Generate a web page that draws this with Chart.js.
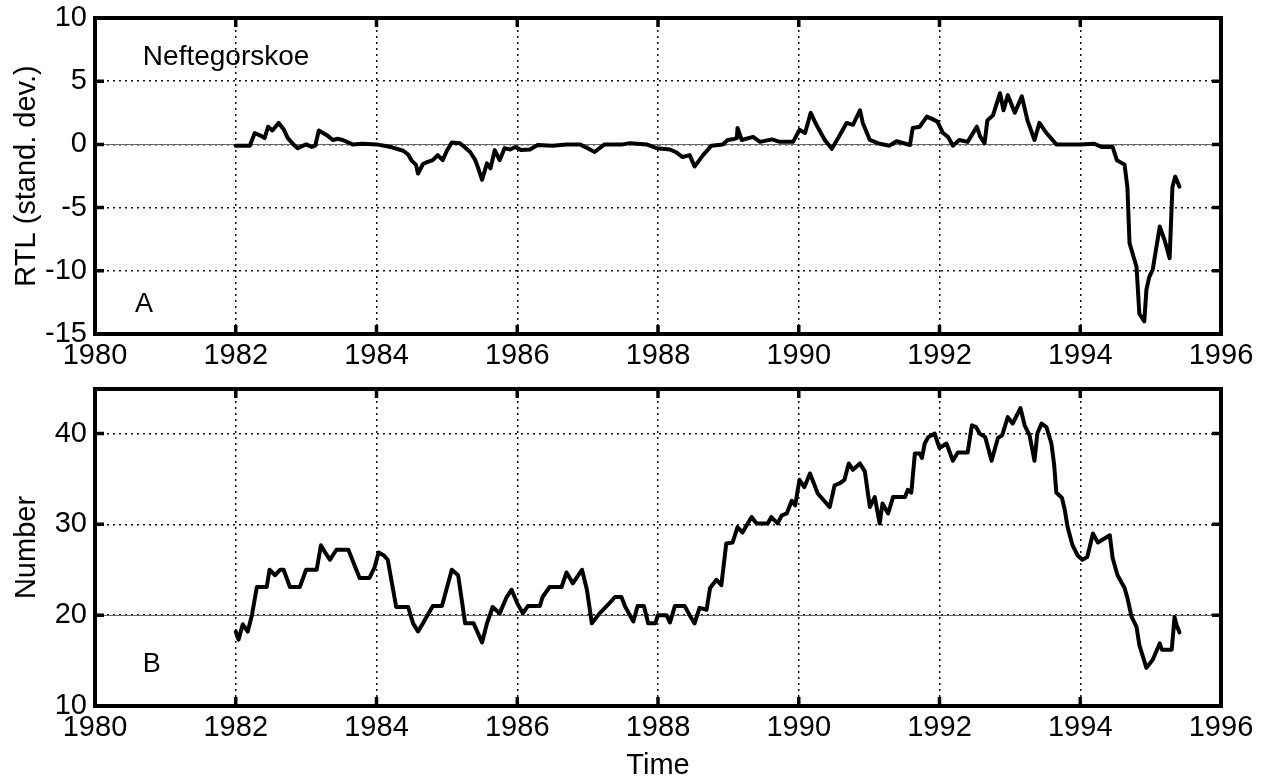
<!DOCTYPE html>
<html>
<head>
<meta charset="utf-8">
<script src="https://cdn.jsdelivr.net/npm/chart.js@4.4.1/dist/chart.umd.min.js"></script>
<style>
html,body{margin:0;padding:0;background:#fff;width:1264px;height:778px;overflow:hidden}
#c1{position:absolute;left:0;top:0}
#c2{position:absolute;left:0;top:372px}
</style>
</head>
<body>
<canvas id="c1" width="1264" height="372"></canvas>
<canvas id="c2" width="1264" height="406"></canvas>
<script>
// ---------- DATA ----------
const xTickYears = [1980, 1982, 1984, 1986, 1988, 1990, 1992, 1994, 1996];
const rtlTicks = [-15, -10, -5, 0, 5, 10];
const numberTicks = [10, 20, 30, 40];

const rtlYears = [
 1982.00,1982.10,1982.20,1982.27,1982.35,1982.41,1982.46,1982.52,1982.61,1982.68,
 1982.74,1982.82,1982.88,1983.00,1983.08,1983.13,1983.18,1983.29,1983.38,1983.45,
 1983.52,1983.66,1983.80,1984.00,1984.15,1984.23,1984.38,1984.45,1984.50,1984.56,
 1984.59,1984.66,1984.72,1984.80,1984.87,1984.94,1985.00,1985.07,1985.18,1985.25,
 1985.33,1985.40,1985.44,1985.50,1985.57,1985.62,1985.68,1985.75,1985.82,1985.90,
 1985.97,1986.06,1986.18,1986.29,1986.50,1986.70,1986.89,1987.00,1987.10,1987.24,
 1987.50,1987.60,1987.84,1987.98,1988.17,1988.25,1988.35,1988.45,1988.52,1988.58,
 1988.64,1988.76,1988.92,1988.99,1989.06,1989.12,1989.13,1989.19,1989.35,1989.45,
 1989.62,1989.73,1989.92,1990.01,1990.09,1990.17,1990.25,1990.37,1990.47,1990.56,
 1990.68,1990.77,1990.87,1990.91,1991.01,1991.15,1991.29,1991.39,1991.58,1991.62,
 1991.72,1991.82,1991.90,1991.97,1992.05,1992.12,1992.19,1992.28,1992.40,1992.53,
 1992.58,1992.64,1992.68,1992.76,1992.86,1992.91,1992.97,1993.07,1993.17,1993.25,
 1993.35,1993.42,1993.52,1993.66,1994.00,1994.20,1994.30,1994.46,1994.52,1994.63,
 1994.67,1994.70,1994.75,1994.80,1994.84,1994.91,1994.94,1994.98,1995.03,1995.13,
 1995.20,1995.27,1995.31,1995.35,1995.41
];
const rtlValues = [
 -0.1,-0.1,-0.1,0.9,0.7,0.5,1.4,1.1,1.7,1.2,
 0.5,0.0,-0.3,0.0,-0.2,-0.1,1.1,0.75,0.35,0.45,
 0.35,0.0,0.05,0.0,-0.15,-0.25,-0.5,-0.8,-1.3,-1.6,
 -2.3,-1.55,-1.4,-1.25,-0.85,-1.25,-0.5,0.15,0.1,-0.2,
 -0.6,-1.2,-1.8,-2.8,-1.5,-1.9,-0.45,-1.25,-0.3,-0.4,
 -0.2,-0.45,-0.4,-0.05,-0.1,0.0,0.0,-0.3,-0.6,0.0,
 0.0,0.1,0.0,-0.3,-0.4,-0.6,-1.0,-0.85,-1.75,-1.3,
 -0.85,-0.1,0.0,0.35,0.4,0.5,1.3,0.35,0.6,0.2,
 0.4,0.2,0.2,1.15,0.9,2.5,1.55,0.35,-0.35,0.5,
 1.7,1.55,2.7,1.7,0.35,0.05,-0.1,0.25,-0.05,1.3,
 1.4,2.2,2.0,1.8,0.9,0.6,-0.1,0.35,0.2,1.4,
 0.6,0.1,1.9,2.3,4.05,2.7,3.9,2.5,3.8,1.9,
 0.35,1.7,0.9,0.0,0.0,0.05,-0.2,-0.2,-1.25,-1.6,
 -3.4,-7.8,-8.75,-9.7,-13.4,-14.0,-11.5,-10.5,-9.9,-6.5,
 -7.6,-9.0,-3.35,-2.55,-3.35
];

const numYears = [
 1982.00,1982.04,1982.10,1982.17,1982.23,1982.30,1982.44,1982.48,1982.56,1982.63,
 1982.68,1982.77,1982.91,1983.00,1983.15,1983.21,1983.27,1983.34,1983.43,1983.60,
 1983.76,1983.90,1983.97,1984.03,1984.10,1984.16,1984.28,1984.45,1984.52,1984.59,
 1984.66,1984.80,1984.93,1985.07,1985.16,1985.26,1985.38,1985.50,1985.57,1985.65,
 1985.75,1985.85,1985.92,1986.00,1986.08,1986.15,1986.32,1986.36,1986.46,1986.63,
 1986.70,1986.79,1986.92,1986.99,1987.06,1987.17,1987.27,1987.39,1987.48,1987.53,
 1987.65,1987.71,1987.80,1987.86,1987.96,1988.00,1988.12,1988.17,1988.24,1988.38,
 1988.45,1988.52,1988.59,1988.69,1988.74,1988.83,1988.90,1988.97,1989.06,1989.13,
 1989.20,1989.33,1989.40,1989.56,1989.61,1989.70,1989.76,1989.83,1989.90,1989.95,
 1990.01,1990.08,1990.16,1990.27,1990.44,1990.51,1990.58,1990.65,1990.71,1990.77,
 1990.87,1990.94,1991.01,1991.08,1991.15,1991.19,1991.27,1991.34,1991.51,1991.55,
 1991.60,1991.65,1991.72,1991.75,1991.79,1991.84,1991.93,1992.00,1992.10,1992.19,
 1992.26,1992.40,1992.46,1992.52,1992.57,1992.65,1992.74,1992.83,1992.89,1992.97,
 1993.04,1993.15,1993.21,1993.28,1993.35,1993.39,1993.45,1993.52,1993.59,1993.63,
 1993.66,1993.74,1993.78,1993.82,1993.89,1993.96,1994.03,1994.10,1994.18,1994.25,
 1994.42,1994.46,1994.53,1994.63,1994.67,1994.73,1994.80,1994.84,1994.94,1995.03,
 1995.13,1995.16,1995.30,1995.34,1995.37,1995.41
];
const numValues = [
 18.2,17.3,19.0,18.2,20.0,23.1,23.1,25.0,24.4,25.0,
 25.0,23.1,23.1,25.0,25.0,27.7,26.9,26.1,27.2,27.2,
 24.1,24.1,25.2,26.9,26.6,26.1,20.9,20.9,19.1,18.2,
 19.1,21.0,21.0,25.0,24.4,19.1,19.1,17.0,19.1,20.9,
 20.2,22.0,22.8,21.3,20.2,21.0,21.0,22.0,23.1,23.1,
 24.7,23.5,25.0,22.8,19.1,20.2,21.0,22.0,22.0,21.0,
 19.3,21.0,21.0,19.1,19.1,20.0,20.0,19.2,21.0,21.0,
 20.0,19.1,20.8,20.6,23.0,23.9,23.3,27.9,28.0,29.7,
 29.1,30.8,30.1,30.1,30.8,30.1,31.0,31.2,32.6,32.1,
 34.9,34.1,35.6,33.4,31.9,34.3,34.5,34.9,36.7,36.0,
 36.7,35.8,31.9,33.0,30.1,32.3,31.2,33.0,33.0,33.8,
 33.5,37.8,37.8,37.3,38.9,39.6,40.0,38.4,38.9,37.0,
 37.9,37.9,40.9,40.7,40.0,39.6,37.0,39.5,39.8,41.8,
 41.1,42.8,40.9,39.8,37.0,40.0,41.1,40.7,38.9,36.5,
 33.5,32.9,31.6,29.7,27.7,26.6,26.1,26.4,29.0,28.0,
 28.8,26.3,24.4,23.0,21.9,19.8,18.7,16.7,14.2,15.1,
 16.9,16.2,16.2,19.8,18.9,18.1
];

const rtlRefValue = 0;
const numRefValue = 20;

// ---------- STYLE / HELPERS ----------
const FONT = '"Liberation Sans", Arial, Helvetica, sans-serif';
const FS = 29;

const framePlugin = {
  id: 'frame',
  beforeDatasetsDraw(chart, args, opts) {
    const {ctx, chartArea: a, scales: {y}} = chart;
    const py = Math.round(y.getPixelForValue(opts.refValue)) + 0.5;
    ctx.save();
    ctx.strokeStyle = '#666';
    ctx.lineWidth = 1.2;
    ctx.beginPath();
    ctx.moveTo(a.left, py);
    ctx.lineTo(a.right, py);
    ctx.stroke();
    ctx.restore();
  },
  afterDraw(chart, args, opts) {
    const {ctx, chartArea: a, scales: {x, y}} = chart;
    ctx.save();
    ctx.strokeStyle = '#000';
    ctx.lineWidth = 4;
    ctx.strokeRect(a.left, a.top, a.right - a.left, a.bottom - a.top);
    const L = 9;
    ctx.lineWidth = 3.5;
    ctx.beginPath();
    x.ticks.forEach(t => {
      if (t.value <= x.min || t.value >= x.max) return;
      const px = x.getPixelForValue(t.value);
      ctx.moveTo(px, a.top); ctx.lineTo(px, a.top + L);
      ctx.moveTo(px, a.bottom); ctx.lineTo(px, a.bottom - L);
    });
    y.ticks.forEach(t => {
      if (t.value <= y.min || t.value >= y.max) return;
      const py = y.getPixelForValue(t.value);
      ctx.moveTo(a.left, py); ctx.lineTo(a.left + L, py);
      ctx.moveTo(a.right, py); ctx.lineTo(a.right - L, py);
    });
    ctx.stroke();
    ctx.fillStyle = '#000';
    ctx.textAlign = 'left';
    ctx.textBaseline = 'alphabetic';
    (opts.labels || []).forEach(l => {
      ctx.font = l.font;
      ctx.fillText(l.text, x.getPixelForValue(l.x), y.getPixelForValue(l.y));
    });
    ctx.restore();
  }
};

function makeChart(canvasId, years, values, yMin, yMax, yTicks, yTitle, refValue, labels, xAxisHeight, xTitle, topPad) {
  const xScale = {
    type: 'linear',
    min: xTickYears[0],
    max: xTickYears[xTickYears.length - 1],
    afterBuildTicks: s => { s.ticks = xTickYears.map(v => ({value: v})); },
    afterFit: s => { s.height = xAxisHeight; s.paddingLeft = 0; s.paddingRight = 0; },
    ticks: {
      color: '#000',
      font: {family: FONT, size: FS},
      padding: 5,
      maxRotation: 0,
      autoSkip: false,
      callback: v => String(v)
    },
    grid: {color: '#111', lineWidth: 1.5, drawTicks: false},
    border: {display: false, dash: [2, 4]},
    title: xTitle ? {display: true, text: xTitle, color: '#000', font: {family: FONT, size: FS}, padding: {top: 0, bottom: -5}} : {display: false}
  };
  const yScale = {
    type: 'linear',
    min: yMin,
    max: yMax,
    afterBuildTicks: s => { s.ticks = yTicks.map(v => ({value: v})); },
    afterFit: s => { s.width = 95; s.paddingTop = 0; s.paddingBottom = 0; },
    ticks: {
      color: '#000',
      font: {family: FONT, size: FS},
      padding: 8,
      autoSkip: false,
      callback: v => String(v)
    },
    grid: {color: '#111', lineWidth: 1.5, drawTicks: false},
    border: {display: false, dash: [2, 4]},
    title: {display: true, text: yTitle, color: '#000', font: {family: FONT, size: FS}, padding: {top: 10, bottom: 0}}
  };
  return new Chart(document.getElementById(canvasId), {
    type: 'line',
    data: {
      datasets: [{
        data: years.map((x, i) => ({x: x, y: values[i]})),
        borderColor: '#000',
        borderWidth: 4,
        borderJoinStyle: 'round',
        borderCapStyle: 'round',
        pointRadius: 0,
        fill: false,
        tension: 0
      }]
    },
    options: {
      responsive: false,
      animation: false,
      devicePixelRatio: 1,
      layout: {padding: {left: 0, right: 43, top: topPad, bottom: 0}},
      plugins: {
        legend: {display: false},
        tooltip: {enabled: false},
        frame: {refValue: refValue, labels: labels}
      },
      scales: {x: xScale, y: yScale}
    },
    plugins: [framePlugin]
  });
}

makeChart('c1', rtlYears, rtlValues, -15, 10, rtlTicks, 'RTL (stand. dev.)', rtlRefValue,
  [
    {text: 'Neftegorskoe', x: 1980.68, y: 6.28, font: '28px ' + FONT},
    {text: 'A', x: 1980.57, y: -13.26, font: '27px ' + FONT}
  ], 38, null, 18);

makeChart('c2', numYears, numValues, 10, 44.9, numberTicks, 'Number', numRefValue,
  [
    {text: 'B', x: 1980.68, y: 13.74, font: '27px ' + FONT}
  ], 72, 'Time', 17);
</script>
</body>
</html>
